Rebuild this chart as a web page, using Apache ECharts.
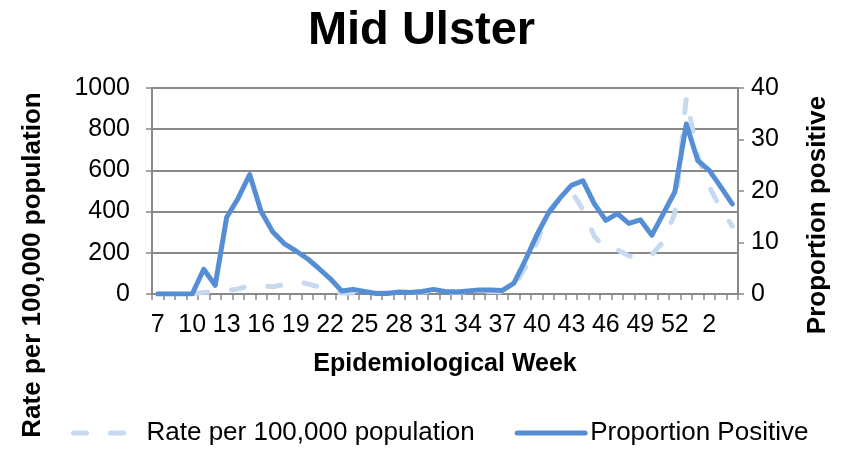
<!DOCTYPE html>
<html>
<head>
<meta charset="utf-8">
<script src="https://cdn.jsdelivr.net/npm/echarts@6/dist/echarts.min.js"></script>
<style>
  html, body { margin: 0; padding: 0; background: #fff; }
  #main { width: 843px; height: 451px; }
</style>
</head>
<body>
<div id="main"></div>
<script>
// epidemiological weeks, 2020 wk 7 .. wk 53 then 2021 wk 1 .. 4
var weeks = ['7','8','9','10','11','12','13','14','15','16','17','18','19','20','21','22','23','24','25','26',
  '27','28','29','30','31','32','33','34','35','36','37','38','39','40','41','42','43','44','45','46',
  '47','48','49','50','51','52','53','1','2','3','4'];

// rate per 100,000 population (left axis)
var ratePer100k = [0,0,0,0,8,8,15,25,40,40,35,45,62,50,35,15,5,5,8,5,
  5,8,8,10,12,10,8,10,12,12,10,40,130,250,400,465,500,410,280,220,
  215,185,170,190,255,390,955,670,520,415,330];

// proportion positive, % (right axis)
var propPositive = [0,0,0,0,4.8,1.7,14.9,18.6,23.2,16.0,12.1,9.8,8.4,6.9,5.0,3.0,0.6,0.9,0.5,0.1,
  0.1,0.4,0.3,0.5,0.9,0.5,0.4,0.6,0.8,0.8,0.7,2.1,6.6,11.5,15.7,18.6,21.1,22.0,17.5,14.3,
  15.6,13.7,14.4,11.4,15.6,19.8,33.0,25.9,24.0,20.8,17.5];

var font = 'Liberation Sans, Arial, sans-serif';
var axisGrey = '#898989';

var myChart = echarts.init(document.getElementById('main'));
myChart.setOption({
  animation: false,
  title: {
    text: 'Mid Ulster',
    left: 'center',
    top: 3,
    textStyle: { fontFamily: font, fontSize: 47, fontWeight: 'bold', color: '#000' }
  },
  grid: { left: 152, right: 105, top: 88, bottom: 157 },
  legend: {
    bottom: 0,
    left: 66,
    itemWidth: 68,
    itemHeight: 6,
    itemGap: 40,
    itemStyle: { opacity: 0 },
    lineStyle: { width: 5 },
    textStyle: { fontFamily: font, fontSize: 26, color: '#000' },
    data: ['Rate per 100,000 population', 'Proportion Positive']
  },
  xAxis: {
    type: 'category',
    data: weeks,
    name: 'Epidemiological Week',
    nameLocation: 'middle',
    nameGap: 58,
    nameTextStyle: { fontFamily: font, fontSize: 25, fontWeight: 'bold', color: '#000' },
    axisLine: { lineStyle: { color: axisGrey, width: 2 } },
    axisTick: { show: true, interval: 0, length: 6, lineStyle: { color: axisGrey, width: 1.5 } },
    axisLabel: { interval: 2, margin: 19, fontFamily: font, fontSize: 25, color: '#000' }
  },
  yAxis: [{
    type: 'value',
    min: 0, max: 1000, interval: 200,
    axisLine: { show: true, lineStyle: { color: axisGrey, width: 2 } },
    axisTick: { show: true, length: 6, lineStyle: { color: axisGrey, width: 1.5 } },
    axisLabel: { margin: 22, fontFamily: font, fontSize: 25, color: '#000', formatter: function (v) { return String(v); } },
    splitLine: { lineStyle: { color: axisGrey, width: 2 } }
  }, {
    type: 'value',
    min: 0, max: 40, interval: 10,
    axisLine: { show: true, lineStyle: { color: axisGrey, width: 2 } },
    axisTick: { show: true, length: 6, lineStyle: { color: axisGrey, width: 1.5 } },
    axisLabel: { margin: 13, fontFamily: font, fontSize: 25, color: '#000' },
    splitLine: { show: false }
  }],
  graphic: [{
    type: 'text',
    x: 33, y: 265,
    rotation: Math.PI / 2,
    style: {
      text: 'Rate per 100,000 population',
      font: 'bold 26px Liberation Sans, Arial, sans-serif',
      fill: '#000', align: 'center', verticalAlign: 'middle'
    }
  }, {
    type: 'text',
    x: 818, y: 215,
    rotation: Math.PI / 2,
    style: {
      text: 'Proportion positive',
      font: 'bold 26px Liberation Sans, Arial, sans-serif',
      fill: '#000', align: 'center', verticalAlign: 'middle'
    }
  }],
  series: [{
    name: 'Rate per 100,000 population',
    type: 'line',
    yAxisIndex: 0,
    data: ratePer100k,
    symbol: 'none',
    lineStyle: { color: '#c6d9f1', width: 5, type: [13, 24], cap: 'round' },
    itemStyle: { color: '#c6d9f1' }
  }, {
    name: 'Proportion Positive',
    type: 'line',
    yAxisIndex: 1,
    data: propPositive,
    symbol: 'none',
    lineStyle: { color: '#558ed5', width: 5, cap: 'round', join: 'round' },
    itemStyle: { color: '#558ed5' }
  }]
});
</script>
</body>
</html>
